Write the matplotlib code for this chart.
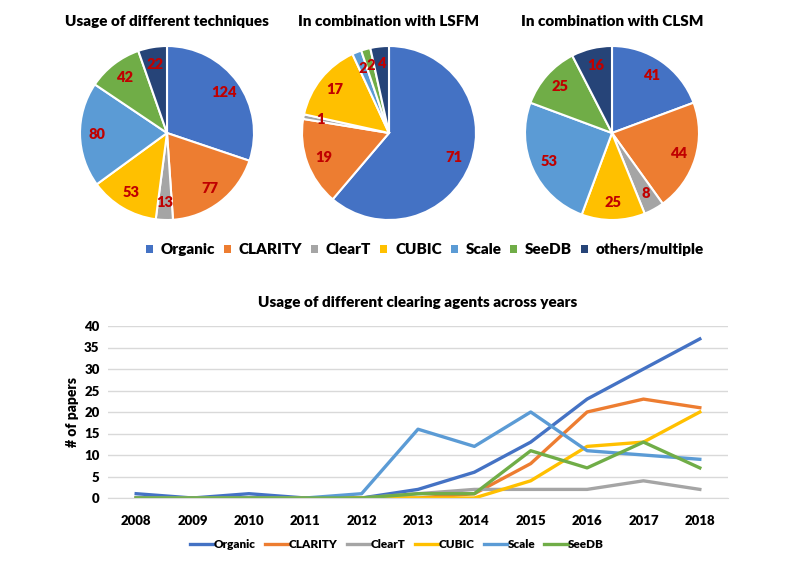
import numpy as np
import matplotlib.pyplot as plt
from matplotlib.patches import Patch
from matplotlib.lines import Line2D

plt.rcParams['font.family'] = ['Lato', 'DejaVu Sans']
plt.rcParams['font.weight'] = 'heavy'
plt.rcParams['axes.titleweight'] = 'heavy'
plt.rcParams['axes.labelweight'] = 'heavy'

# pie data
techniques = ['Organic', 'CLARITY', 'ClearT', 'CUBIC', 'Scale', 'SeeDB', 'others/multiple']
usage_all = [124, 77, 13, 53, 80, 42, 22]
usage_lsfm = [71, 19, 1, 17, 2, 2, 4]
usage_clsm = [41, 44, 8, 25, 53, 25, 16]
pie_titles = ['Usage of different techniques', 'In combination with LSFM', 'In combination with CLSM']

# line data
years = ['2008', '2009', '2010', '2011', '2012', '2013', '2014', '2015', '2016', '2017', '2018']
organic = [1, 0, 1, 0, 0, 2, 6, 13, 23, 30, 37]
clarity = [0, 0, 0, 0, 0, 0, 1, 8, 20, 23, 21]
cleart = [0, 0, 0, 0, 0, 1, 2, 2, 2, 4, 2]
cubic = [0, 0, 0, 0, 0, 0, 0, 4, 12, 13, 20]
scale = [0, 0, 0, 0, 1, 16, 12, 20, 11, 10, 9]
seedb = [0, 0, 0, 0, 0, 1, 1, 11, 7, 13, 7]

colors = ['#4472C4', '#ED7D31', '#A5A5A5', '#FFC000', '#5B9BD5', '#70AD47', '#264478']
label_red = '#C00000'
W, H = 789, 565
fig = plt.figure(figsize=(W / 100, H / 100), dpi=100)


def px_axes(x0, y0, w, h):
    # pixel box (top-left origin) -> figure fraction
    return fig.add_axes([x0 / W, 1 - (y0 + h) / H, w / W, h / H])


centers = [(167, 133), (389, 133), (612, 133)]
r = 87
for (cx, cy), vals, title in zip(centers, [usage_all, usage_lsfm, usage_clsm], pie_titles):
    ax = px_axes(cx - r, cy - r, 2 * r, 2 * r)
    wedges, _ = ax.pie(vals, colors=colors, startangle=90, counterclock=False,
                       wedgeprops=dict(edgecolor='white', linewidth=1.5))
    ax.set_xlim(-1, 1)
    ax.set_ylim(-1, 1)
    ax.set_aspect('equal')
    for w, v in zip(wedges, vals):
        ang = np.deg2rad((w.theta1 + w.theta2) / 2)
        ax.text(0.8 * np.cos(ang), 0.8 * np.sin(ang), str(v), color=label_red,
                fontsize=10.5, ha='center', va='center')
    fig.text(cx / W, 1 - 22 / H, title, ha='center', va='center', fontsize=11)

handles = [Patch(facecolor=c, edgecolor='none') for c in colors]
fig.legend(handles, techniques, loc='center', bbox_to_anchor=(425 / W, 1 - 250 / H),
           ncol=7, frameon=False, fontsize=11,
           handlelength=0.45, handleheight=0.45, handletextpad=0.5, columnspacing=0.6)

# line chart
ax = px_axes(108, 326, 620, 172)
x = np.arange(len(years))
series = [organic, clarity, cleart, cubic, scale, seedb]
for s, name, c in zip(series, techniques[:6], colors[:6]):
    ax.plot(x, s, color=c, linewidth=2.4, label=name)
ax.set_xlim(-0.5, len(years) - 0.5)
ax.set_ylim(0, 40)
ax.set_yticks(range(0, 41, 5))
ax.set_xticks(x)
ax.set_xticklabels(years)
ax.tick_params(length=0, labelsize=9.5, pad=6)
ax.tick_params(axis='x', pad=12)
ax.grid(axis='y', color='#D9D9D9', linewidth=1)
ax.set_axisbelow(True)
for sp in ['top', 'right', 'left']:
    ax.spines[sp].set_visible(False)
ax.spines['bottom'].set_color('#D9D9D9')
ax.set_ylabel('# of papers', fontsize=10, labelpad=4)
ax.set_title('Usage of different clearing agents across years', fontsize=11, pad=14)

fig.legend([Line2D([], [], color=c, linewidth=2.4) for c in colors[:6]], techniques[:6],
           loc='center', bbox_to_anchor=(397 / W, 1 - 545 / H), ncol=6, frameon=False,
           fontsize=8.5, handlelength=2.0, handletextpad=0.0, columnspacing=0.8)

fig.savefig('out.png', dpi=100)
